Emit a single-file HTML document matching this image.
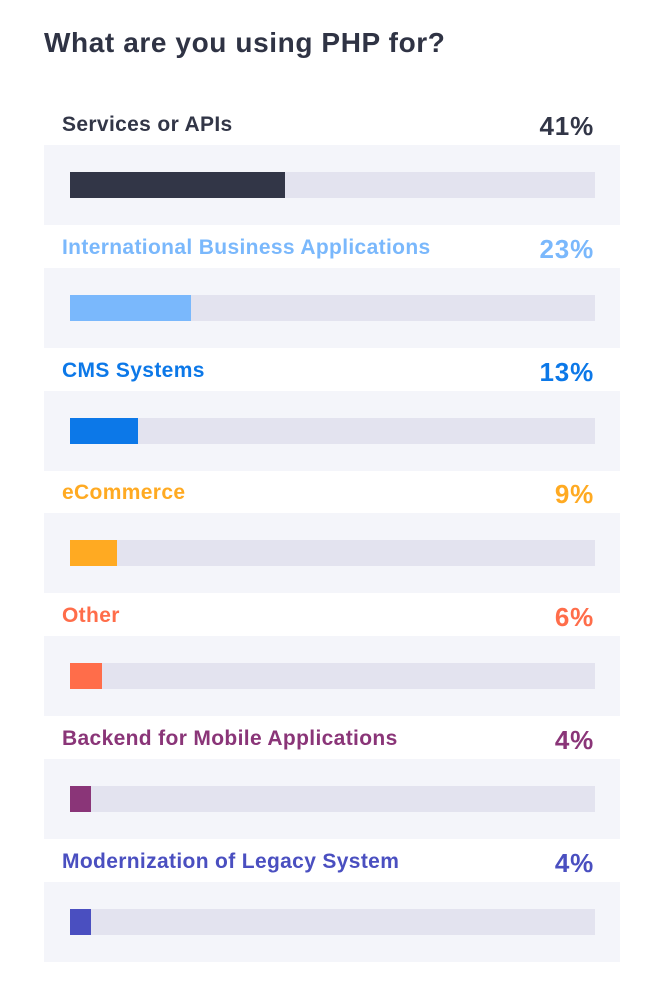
<!DOCTYPE html>
<html><head><meta charset="utf-8"><style>
body{margin:0;width:668px;height:997px;background:#fff;font-family:"Liberation Sans",sans-serif;position:relative;overflow:hidden}
.t{position:absolute;left:44px;top:27px;font-size:28px;font-weight:bold;color:#2f3344;letter-spacing:0.6px}
.lab{position:absolute;left:62px;font-size:21px;font-weight:bold;white-space:nowrap;letter-spacing:0.35px}
.pct{position:absolute;right:74px;font-size:26px;font-weight:900;letter-spacing:0.8px}
.panel{position:absolute;left:44px;width:576px;height:80px;background:#f4f5fa}
.track{position:absolute;left:26px;top:27px;width:525px;height:26px;background:#e3e3ef}
.fill{position:absolute;left:0;top:0;height:26px}
</style></head><body>
<div class="t">What are you using PHP for?</div>
<div id="chart"></div>
<script>
const categories=["Services or APIs","International Business Applications","CMS Systems","eCommerce","Other","Backend for Mobile Applications","Modernization of Legacy System"];
const values=[41,23,13,9,6,4,4];
const colors=["#323647","#7ab8fc","#0c78e8","#ffaa22","#ff6d4a","#8a3578","#4a4fc0"];
const root=document.getElementById('chart');
const x=v=>v/100*525;
categories.forEach((c,i)=>{
  const top=145+i*122.8;
  const lab=document.createElement('div');
  lab.className='lab';lab.style.top=(top-32)+'px';lab.style.color=colors[i];lab.textContent=c;
  
  
  root.appendChild(lab);
  const p=document.createElement('div');
  p.className='pct';p.style.top=(top-34)+'px';p.style.color=colors[i];p.textContent=values[i]+'%';
  
  
  root.appendChild(p);
  const pan=document.createElement('div');
  pan.className='panel';pan.style.top=top+'px';
  
  
  const tr=document.createElement('div');tr.className='track';
  
  
  const f=document.createElement('div');f.className='fill';
  f.style.width=x(values[i])+'px';f.style.background=colors[i];
  
  
  tr.appendChild(f);pan.appendChild(tr);root.appendChild(pan);
});
</script>
</body></html>
